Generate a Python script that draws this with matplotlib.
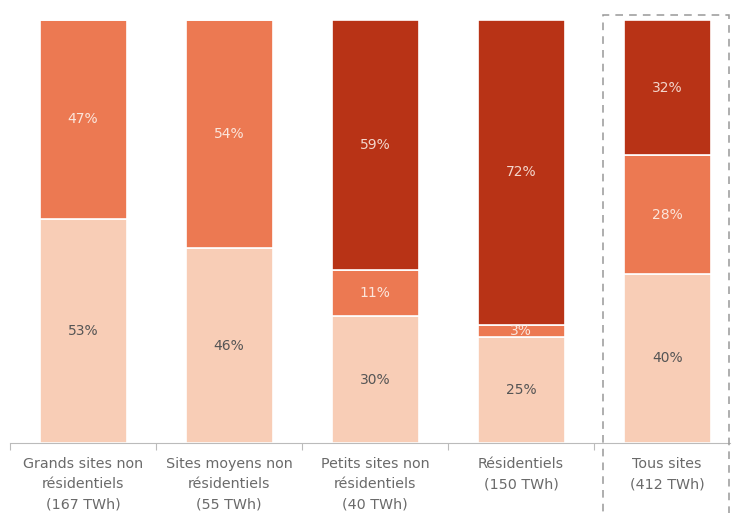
import matplotlib.pyplot as plt
import matplotlib.patches as mpatches
import numpy as np

categories = ["Grands sites non\nrésidentiels\n(167 TWh)",
              "Sites moyens non\nrésidentiels\n(55 TWh)",
              "Petits sites non\nrésidentiels\n(40 TWh)",
              "Résidentiels\n(150 TWh)",
              "Tous sites\n(412 TWh)"]
light = [53, 46, 30, 25, 40]
mid = [47, 54, 11, 3, 28]
dark = [0, 0, 59, 72, 32]

c_light = "#F8CDB6"
c_mid = "#EC7952"
c_dark = "#B83316"

fig = plt.figure(figsize=(7.32, 5.13), dpi=100)
ax = fig.add_axes([10/732, 70/513, 720/732, 423/513])

x = np.arange(len(categories))
w = 87/146
bottom = np.zeros(len(x))
for vals, col, tcol in [(light, c_light, "#555555"), (mid, c_mid, "#fbe6dc"), (dark, c_dark, "#f3d6cc")]:
    vals = np.array(vals, dtype=float)
    ax.bar(x, vals, w, bottom=bottom, color=col, edgecolor="white", linewidth=1.2)
    for xi, v, b in zip(x, vals, bottom):
        if v > 0:
            ax.text(xi, b + v/2, f"{int(v)}%", ha="center", va="center",
                    fontsize=10, color=tcol)
    bottom += vals

ax.set_xlim(-0.5, 4.43)
ax.set_ylim(0, 100)
ax.set_yticks([])
for s in ["top", "right", "left"]:
    ax.spines[s].set_visible(False)
ax.spines["bottom"].set_color("#bbbbbb")
ax.set_xticks([-0.5, 0.5, 1.5, 2.5, 3.5])
ax.set_xticklabels([])
ax.tick_params(axis="x", length=5, color="#bbbbbb")
for xi, lab in zip(x, categories):
    ax.text(xi, -3.4, lab, ha="center", va="top", fontsize=10.3, color="#6a6a6a",
            linespacing=1.55)

# dashed box around total bar
box = mpatches.Rectangle((603/732, -0.02), 126/732, 0.99, transform=fig.transFigure,
                         fill=False, edgecolor="#999999", linestyle=(0, (5, 4)), linewidth=1.1)
fig.patches.append(box)

plt.savefig("out.png", dpi=100)
